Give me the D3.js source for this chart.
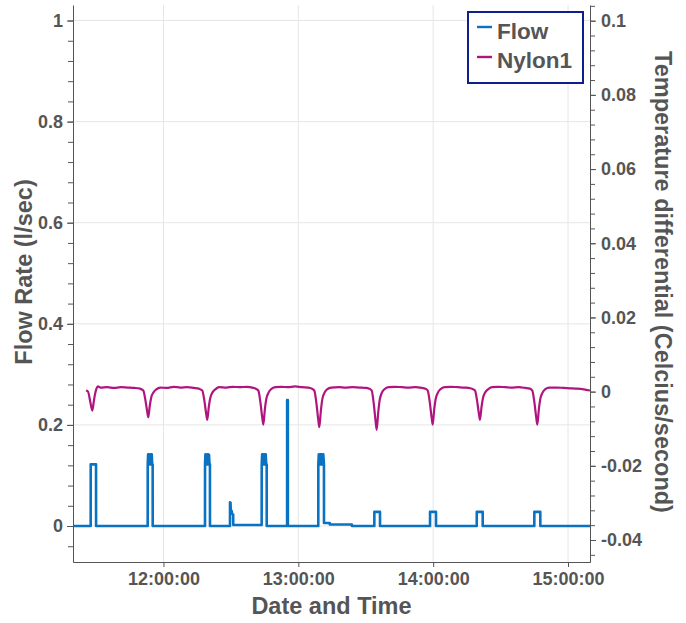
<!DOCTYPE html>
<html>
<head>
<meta charset="utf-8">
<script src="https://cdn.jsdelivr.net/npm/d3@7"></script>
<style>
  body { margin: 0; background: #fff; }
  text { font-family: "Liberation Sans", Arial, sans-serif; font-weight: bold; fill: #555; }
  .axis path, .axis line { stroke: #555; }
</style>
</head>
<body>
<script>
const width = 686, height = 623;

// series: time stamps and values
const flowTimes = [
  "11:19:44","11:27:36","11:27:37","11:29:59","11:30:00",
  "11:52:58","11:52:59","11:53:10","11:53:22","11:53:34","11:53:46","11:53:58","11:54:10","11:54:22","11:54:34","11:54:46","11:54:58","11:55:11","11:55:12",
  "12:18:28","12:18:29","12:18:40","12:18:52","12:19:04","12:19:16","12:19:28","12:19:40","12:19:52","12:20:04","12:20:16","12:20:28","12:20:40","12:20:41",
  "12:29:35","12:29:36","12:29:50","12:29:55","12:30:20","12:30:30","12:31:00","12:31:03",
  "12:43:41","12:43:42","12:43:54","12:44:06","12:44:18","12:44:30","12:44:42","12:44:54","12:45:06","12:45:18","12:45:30","12:45:42","12:45:55","12:45:56",
  "12:55:00","12:55:01","12:55:20","12:55:21",
  "13:08:53","13:08:54","13:09:06","13:09:18","13:09:30","13:09:42","13:09:54","13:10:06","13:10:18","13:10:30","13:10:42","13:10:54","13:11:06","13:11:24","13:11:25",
  "13:14:00","13:14:01","13:23:50","13:23:51",
  "13:33:49","13:33:50","13:36:20","13:36:21",
  "13:58:36","13:58:37","14:01:15","14:01:16",
  "14:19:23","14:19:24","14:22:02","14:22:03",
  "14:45:00","14:45:01","14:47:40","14:47:41",
  "15:09:47"
];
const flowValues = [
  0, 0, 0.122, 0.122, 0,
  0, 0.122, 0.142, 0.123, 0.142, 0.122, 0.141, 0.124, 0.142, 0.122, 0.142, 0.123, 0.122, 0,
  0, 0.122, 0.142, 0.122, 0.141, 0.123, 0.142, 0.122, 0.142, 0.124, 0.141, 0.122, 0.122, 0,
  0, 0.047, 0.046, 0.032, 0.030, 0.024, 0.023, 0.002,
  0.002, 0.122, 0.142, 0.123, 0.142, 0.122, 0.141, 0.122, 0.142, 0.124, 0.142, 0.122, 0.122, 0,
  0, 0.249, 0.249, 0,
  0, 0.122, 0.142, 0.122, 0.141, 0.123, 0.142, 0.122, 0.142, 0.124, 0.141, 0.122, 0.142, 0.122, 0.006,
  0.006, 0.003, 0.003, 0,
  0, 0.028, 0.028, 0,
  0, 0.028, 0.028, 0,
  0, 0.028, 0.028, 0,
  0, 0.028, 0.028, 0,
  0
];

const nylonTimes = [
  "11:25:31","11:26:25","11:27:30","11:28:19","11:29:00","11:29:30","11:30:10","11:30:50","11:32:00",
  "11:35:00","11:38:00","11:41:00","11:44:00","11:47:00","11:49:30",
  "11:51:01","11:51:54","11:52:47","11:53:14","11:53:54","11:54:34","11:55:27","11:56:48","11:58:34",
  "12:01:30","12:04:30","12:07:30","12:10:30","12:13:30","12:15:45",
  "12:17:16","12:18:09","12:19:02","12:19:29","12:20:09","12:20:49","12:21:42","12:23:03","12:24:49",
  "12:28:00","12:31:00","12:34:00","12:37:00","12:40:00","12:41:00",
  "12:42:12","12:43:05","12:43:58","12:44:25","12:45:05","12:45:45","12:46:38","12:47:59","12:49:45",
  "12:52:30","12:55:30","12:58:30","13:01:30","13:04:30","13:06:00",
  "13:07:07","13:08:00","13:08:53","13:09:20","13:10:00","13:10:40","13:11:33","13:12:54","13:14:40",
  "13:18:00","13:21:00","13:24:00","13:27:00","13:30:00","13:31:30",
  "13:32:39","13:33:32","13:34:25","13:34:52","13:35:32","13:36:12","13:37:05","13:38:26","13:40:12",
  "13:43:00","13:46:00","13:49:00","13:52:00","13:55:00","13:56:30",
  "13:57:34","13:58:27","13:59:20","13:59:47","14:00:27","14:01:07","14:02:00","14:03:21","14:05:07",
  "14:08:00","14:11:00","14:14:00","14:16:30","14:17:30",
  "14:18:37","14:19:30","14:20:23","14:20:50","14:21:30","14:22:10","14:23:03","14:24:24","14:26:10",
  "14:29:00","14:32:00","14:35:00","14:38:00","14:41:00","14:43:00",
  "14:44:07","14:45:00","14:45:53","14:46:20","14:47:00","14:47:40","14:48:33","14:49:54","14:51:40",
  "14:55:00","14:58:00","15:01:00","15:04:00","15:07:00","15:09:47"
];
const nylonValues = [
  0.0003, 0.0000, -0.0030, -0.0051, -0.0026, -0.0008, 0.0008, 0.0014, 0.0011,
  0.0012, 0.0010, 0.0012, 0.0011, 0.0010, 0.0008,
  0.0003, -0.0021, -0.0055, -0.0069, -0.0038, -0.0015, -0.0003, 0.0006, 0.0011,
  0.0010, 0.0013, 0.0011, 0.0012, 0.0010, 0.0008,
  0.0003, -0.0023, -0.0061, -0.0076, -0.0042, -0.0017, -0.0003, 0.0006, 0.0012,
  0.0011, 0.0013, 0.0012, 0.0013, 0.0010, 0.0008,
  0.0003, -0.0027, -0.0071, -0.0089, -0.0049, -0.0020, -0.0004, 0.0007, 0.0012,
  0.0013, 0.0012, 0.0014, 0.0012, 0.0011, 0.0008,
  0.0003, -0.0029, -0.0077, -0.0096, -0.0053, -0.0021, -0.0004, 0.0007, 0.0011,
  0.0012, 0.0011, 0.0012, 0.0011, 0.0010, 0.0008,
  0.0003, -0.0031, -0.0082, -0.0103, -0.0057, -0.0023, -0.0004, 0.0007, 0.0012,
  0.0013, 0.0012, 0.0011, 0.0012, 0.0010, 0.0008,
  0.0003, -0.0027, -0.0071, -0.0089, -0.0049, -0.0020, -0.0004, 0.0007, 0.0012,
  0.0013, 0.0012, 0.0011, 0.0009, 0.0007,
  0.0003, -0.0023, -0.0061, -0.0076, -0.0042, -0.0017, -0.0003, 0.0006, 0.0012,
  0.0013, 0.0012, 0.0011, 0.0012, 0.0010, 0.0008,
  0.0003, -0.0027, -0.0071, -0.0089, -0.0049, -0.0020, -0.0004, 0.0007, 0.0011,
  0.0011, 0.0010, 0.0009, 0.0008, 0.0006, 0.0003
];

// axes setup
const timeDomain = ["11:19:44", "15:09:47"];
const leftDomain = [-0.0712, 1.0307];
const rightDomain = [-0.04593, 0.10423];
const leftTicks = [0, 0.2, 0.4, 0.6, 0.8, 1];
const rightTicks = [-0.04, -0.02, 0, 0.02, 0.04, 0.06, 0.08, 0.1];
const seriesNames = ["Flow", "Nylon1"];
const colors = ["#0a72c2", "#b0157f"];

const plot = { left: 73, right: 590, top: 5, bottom: 562 };
const parse = d3.timeParse("%H:%M:%S");

const svg = d3.select("body").append("svg")
    .attr("width", width)
    .attr("height", height);

const x = d3.scaleTime().domain(timeDomain.map(parse)).range([plot.left, plot.right]);
const yL = d3.scaleLinear().domain(leftDomain).range([plot.bottom, plot.top]);
const yR = d3.scaleLinear().domain(rightDomain).range([plot.bottom, plot.top]);

// grid
const grid = svg.append("g").attr("class", "grid");
grid.selectAll("line.h")
  .data(leftTicks)
  .enter().append("line")
    .attr("x1", plot.left).attr("x2", plot.right)
    .attr("y1", d => yL(d)).attr("y2", d => yL(d))
    .style("stroke", "#e6e6e6").style("stroke-width", 1);
const hourTicks = x.ticks(d3.timeHour.every(1));
grid.selectAll("line.v")
  .data(hourTicks)
  .enter().append("line")
    .attr("x1", d => x(d)).attr("x2", d => x(d))
    .attr("y1", plot.top).attr("y2", plot.bottom)
    .style("stroke", "#e6e6e6").style("stroke-width", 1);

svg.append("clipPath").attr("id", "clip")
  .append("rect")
    .attr("x", plot.left).attr("y", plot.top)
    .attr("width", plot.right - plot.left).attr("height", plot.bottom - plot.top);

const flowData = flowTimes.map((t, i) => ({ t: parse(t), v: flowValues[i] }));
const nylonData = nylonTimes.map((t, i) => ({ t: parse(t), v: nylonValues[i] }));

const lineL = d3.line().x(d => x(d.t)).y(d => yL(d.v));
const lineR = d3.line().x(d => x(d.t)).y(d => yR(d.v)).curve(d3.curveMonotoneX);

const lines = svg.append("g").attr("clip-path", "url(#clip)");
lines.append("path")
    .datum(nylonData)
    .attr("d", lineR)
    .style("fill", "none")
    .style("stroke", colors[1])
    .style("stroke-width", 2.2)
    .style("stroke-linejoin", "round");
lines.append("path")
    .datum(flowData)
    .attr("d", lineL)
    .style("fill", "none")
    .style("stroke", colors[0])
    .style("stroke-width", 2.6)
    .style("stroke-linejoin", "round");

// left axis
const fmt = d => String(+d.toFixed(2));
const minorLeft = d3.range(-1, 26).map(i => +(i * 0.04).toFixed(2));
svg.append("g").attr("class", "axis")
    .attr("transform", "translate(" + plot.left + ",0)")
    .call(d3.axisLeft(yL).tickValues(minorLeft).tickSize(5).tickFormat(""))
    .call(g => g.select(".domain").remove());
const axL = svg.append("g").attr("class", "axis")
    .attr("transform", "translate(" + plot.left + ",0)")
    .call(d3.axisLeft(yL).tickValues(leftTicks).tickSize(6).tickSizeOuter(0).tickPadding(4).tickFormat(fmt));
axL.selectAll("text").style("font-size", "18px").attr("fill", null);

// right axis
const minorRight = d3.range(-11, 27).map(i => +(i * 0.004).toFixed(3));
svg.append("g").attr("class", "axis")
    .attr("transform", "translate(" + plot.right + ",0)")
    .call(d3.axisRight(yR).tickValues(minorRight).tickSize(5).tickFormat(""))
    .call(g => g.select(".domain").remove());
const axR = svg.append("g").attr("class", "axis")
    .attr("transform", "translate(" + plot.right + ",0)")
    .call(d3.axisRight(yR).tickValues(rightTicks).tickSize(6).tickSizeOuter(0).tickPadding(5).tickFormat(fmt));
axR.selectAll("text").style("font-size", "18px").attr("fill", null);

// bottom axis
const axB = svg.append("g").attr("class", "axis")
    .attr("transform", "translate(0," + plot.bottom + ")")
    .call(d3.axisBottom(x).ticks(d3.timeHour.every(1)).tickSize(5).tickSizeOuter(0).tickPadding(5)
      .tickFormat(d3.timeFormat("%H:%M:%S")));
axB.selectAll("text").style("font-size", "18px").attr("fill", null);

// titles
svg.append("text")
    .attr("x", (plot.left + plot.right) / 2)
    .attr("y", 614)
    .attr("text-anchor", "middle")
    .style("font-size", "23.5px")
    .text("Date and Time");

svg.append("text")
    .attr("transform", "translate(24,272) rotate(-90)")
    .attr("text-anchor", "middle")
    .attr("dy", "0.35em")
    .style("font-size", "23.5px")
    .text("Flow Rate (l/sec)");

svg.append("text")
    .attr("transform", "translate(663,282) rotate(90)")
    .attr("text-anchor", "middle")
    .attr("dy", "0.35em")
    .style("font-size", "23.5px")
    .text("Temperature differential (Celcius/second)");

// legend
const legend = svg.append("g").attr("transform", "translate(468,12)");
legend.append("rect")
    .attr("width", 115).attr("height", 71)
    .style("fill", "#fff")
    .style("stroke", "#0c1f8c")
    .style("stroke-width", 2);
seriesNames.forEach(function(name, i) {
  legend.append("line")
      .attr("x1", 9).attr("x2", 24)
      .attr("y1", 15 + i * 30).attr("y2", 15 + i * 30)
      .style("stroke", colors[i])
      .style("stroke-width", 2.4);
  legend.append("text")
      .attr("x", 29)
      .attr("y", 27 + i * 29)
      .style("font-size", "22.5px")
      .text(name);
});
</script>
</body>
</html>
